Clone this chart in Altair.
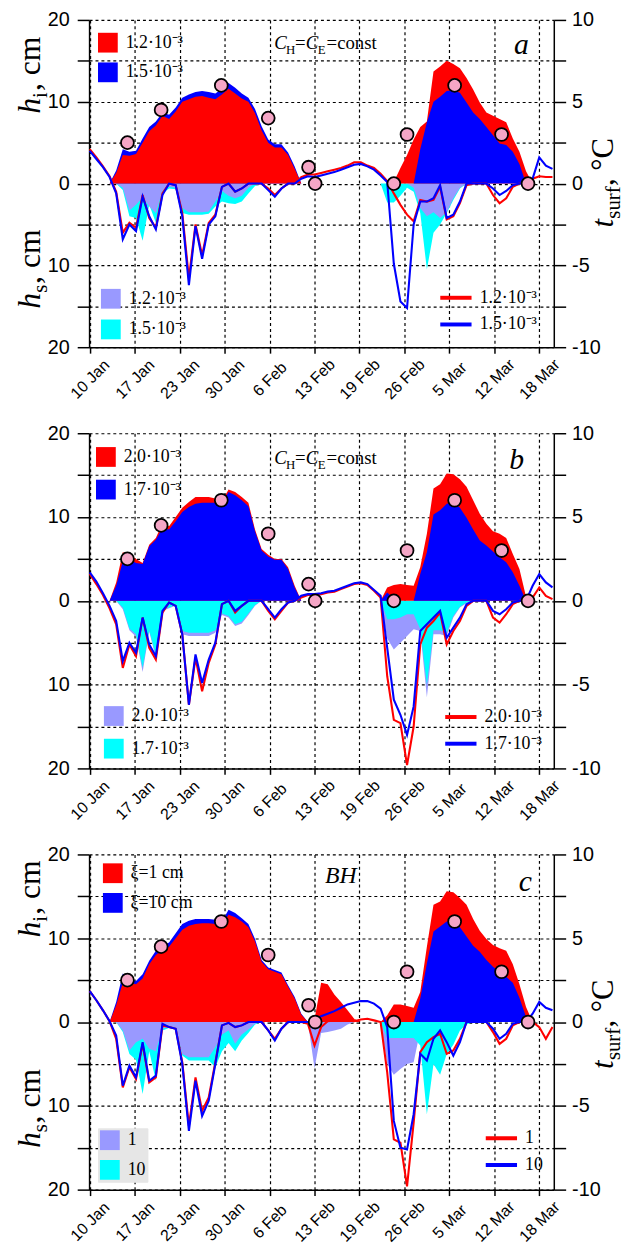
import altair as alt
import pandas as pd

# ---------------------------------------------------------------- data
DAYS = list(range(71))  # days since 10 Jan
TICK_DAYS = [0.0, 6.8, 13.6, 20.4, 27.2, 34.0, 40.8, 47.6, 54.4, 61.2, 68.0]
TICK_LABELS = ["10 Jan", "17 Jan", "23 Jan", "30 Jan", "6 Feb", "13 Feb",
               "19 Feb", "26 Feb", "5 Mar", "12 Mar", "18 Mar"]
OBS_DAYS = [5.7, 10.8, 19.9, 27.0, 33.1, 34.1, 46.0, 48.0, 55.2, 62.3, 66.3]
OBS_CM = [5, 9, 12, 8, 2, 0, 0, 6, 12, 6, 0]

# panel a
A_ICE_RED = [0, 0, 0, 0, 1.3, 3.5, 3.4, 3.6, 5.0, 6.4,
             7.1, 8.3, 7.9, 8.8, 10.0, 10.3, 10.6, 10.7, 10.5, 10.3,
             10.9, 11.6, 11.0, 10.4, 10.0, 8.6, 6.5, 5.0, 4.4, 4.4,
             3.5, 1.8, 0, 0, 0, 0, 0, 0, 0, 0,
             0, 0, 0, 0, 0, 0, 0.2, 1.9, 3.5, 5.4,
             6.9, 7.6, 13.7, 14.3, 15.0, 14.6, 14.1, 12.9, 11.5, 9.9,
             8.7, 8.3, 7.9, 7.5, 5.5, 3.9, 1.5, 0, 0, 0,
             0]
A_ICE_BLUE = [0, 0, 0, 0, 1.6, 4.2, 3.9, 4.0, 5.5, 6.9,
              7.6, 8.7, 8.4, 9.3, 10.5, 10.9, 11.2, 11.3, 11.2, 11.0,
              11.6, 12.3, 11.7, 11.0, 10.5, 9.1, 7.0, 5.4, 4.8, 4.8,
              3.8, 2.1, 0, 0, 0, 0, 0, 0, 0, 0,
              0, 0, 0, 0, 0, 0, 0, 0, 0, 0,
              4.2, 7.5, 10.0, 10.6, 11.3, 11.4, 11.1, 9.9, 8.7, 7.9,
              6.9, 5.9, 4.9, 4.7, 3.9, 2.4, 0, 0, 0, 0,
              0]
A_SNOW_LILAC = [0, 0, 0, 0, 0, 0.5, 3.3, 2.6, 1.7, 2.8,
                3.6, 0.9, 0.4, 0.5, 3.0, 3.5, 3.5, 3.5, 3.4, 2.2,
                0.9, 1.5, 1.8, 1.5, 0.5, 0, 0, 0, 0, 0,
                0, 0, 0, 0, 0, 0, 0, 0, 0, 0,
                0, 0, 0, 0, 0, 0, 0, 0, 0, 0.5,
                3.0, 4.0, 3.5, 4.2, 3.5, 1.8, 0.5, 0, 0, 0,
                0, 0, 0, 0, 0, 0, 0, 0, 0, 0,
                0]
A_SNOW_CYAN = [0, 0, 0, 0, 0, 0.8, 4.0, 4.2, 7.0, 2.6,
               4.8, 1.2, 0.6, 0.7, 3.6, 3.8, 3.8, 3.8, 3.7, 2.8,
               2.2, 2.4, 2.5, 2.2, 1.2, 0.3, 0, 0, 0, 0,
               0, 0, 0, 0, 0, 0, 0, 0, 0, 0,
               0, 0, 0, 0, 0, 2.3, 2.3, 1.5, 0.5, 1.0,
               3.6, 10.5, 6.0, 5.0, 3.6, 2.0, 0.6, 0, 0, 0,
               0, 0, 0, 0, 0, 0, 0, 0, 0, 0,
               0]
A_T_RED = [2.1, 1.6, 1.05, 0.45, -0.5, -3.0, -2.4, -2.7, -0.7, -2.1,
           -2.7, -0.6, 0, -0.1, -1.8, -5.8, -2.5, -4.4, -2.4, -1.9,
           -0.2, 0, -0.5, -0.3, 0, 0, 0, -0.3, -0.7, -0.3,
           0, 0, 0.4, 0.55, 0.55, 0.65, 0.75, 0.85, 0.95, 1.1,
           1.3, 1.3, 1.1, 0.95, 0.6, 0.15, -0.6, -1.3, -1.9, -2.3,
           -1.0, -1.1, -1.0, -0.2, -2.2, -2.0, -1.2, -0.1, 0, 0,
           0, -0.7, -1.2, -0.9, -0.2, 0, 0, 0.3, 0.45, 0.4,
           0.4]
A_T_BLUE = [2.0, 1.5, 1.0, 0.4, -0.6, -3.4, -2.5, -2.9, -0.8, -2.0,
            -2.8, -0.7, 0, -0.1, -2.0, -6.2, -2.6, -4.6, -2.5, -2.0,
            -0.2, 0, -0.5, -0.3, 0, 0, 0, -0.4, -0.8, -0.3,
            0, 0, 0.3, 0.45, 0.4, 0.5, 0.6, 0.7, 0.85, 1.0,
            1.15, 1.2, 1.05, 0.85, 0.5, 0.1, -4.9, -7.2, -7.6, -2.5,
            -1.1, -1.1, -0.9, -0.1, -2.1, -1.9, -1.1, 0, 0, 0,
            0, -0.3, -0.7, -0.45, -0.1, 0, 0, 0.3, 1.6, 1.1,
            0.9]

# panel b
B_ICE_RED = [0, 0, 0, 0, 2.2, 5.8, 5.6, 5.0, 4.5, 6.7,
             7.5, 9.3, 8.9, 10.0, 11.1, 11.8, 12.4, 12.4, 12.4, 12.2,
             11.9, 13.3, 13.0, 12.4, 11.7, 8.5, 6.2, 5.5, 5.0, 5.0,
             4.0, 1.8, 0, 0, 0, 0, 0, 0, 0, 0,
             0, 0, 0, 0, 0, 1.6, 1.9, 2.0, 1.9, 1.8,
             4.0, 8.0, 13.4, 13.9, 15.2, 15.1, 14.5, 13.6, 12.0, 10.4,
             9.2, 8.3, 8.0, 7.5, 5.6, 3.8, 0.5, 0, 0, 0,
             0]
B_ICE_BLUE = [0, 0, 0, 0, 1.8, 4.7, 5.0, 4.5, 4.4, 6.5,
              7.3, 8.7, 8.5, 9.5, 10.6, 11.2, 11.6, 11.7, 11.7, 11.7,
              11.6, 13.0, 12.6, 12.0, 11.3, 8.3, 6.0, 5.3, 4.9, 4.9,
              3.8, 1.6, 0, 0, 0, 0, 0, 0, 0, 0,
              0, 0, 0, 0, 0, 1.0, 0.3, 0, 0, 0,
              3.2, 5.8, 10.3, 10.8, 11.6, 11.8, 11.1, 9.9, 8.5, 7.2,
              6.6, 5.9, 5.2, 4.6, 3.4, 1.8, 0, 0, 0, 0,
              0]
B_SNOW_LILAC = [0, 0, 0, 0, 0, 1.0, 3.5, 4.3, 8.5, 3.7,
                6.8, 1.2, 0.9, 0.6, 4.0, 4.2, 4.2, 4.2, 4.2, 3.8,
                1.7, 2.0, 3.0, 2.7, 1.7, 0.6, 0, 0, 0, 0,
                0, 0, 0, 0, 0, 0, 0, 0, 0, 0,
                0, 0, 0, 0, 0, 4.5, 5.8, 5.0, 4.2, 3.4,
                3.6, 11.5, 4.0, 4.0, 4.2, 2.0, 0.8, 0.3, 0, 0,
                0, 0, 0, 0, 0, 0, 0, 0, 0, 0,
                0]
B_SNOW_CYAN = [0, 0, 0, 0, 0, 0.8, 3.3, 4.0, 8.0, 3.5,
               6.5, 1.0, 0.8, 0.5, 3.6, 3.8, 3.8, 3.8, 3.8, 3.5,
               1.5, 1.8, 2.8, 2.5, 1.5, 0.5, 0, 0, 0, 0,
               0, 0, 0, 0, 0, 0, 0, 0, 0, 0,
               0, 0, 0, 0, 0, 2.2, 2.2, 2.0, 1.6, 1.6,
               3.4, 10.0, 3.5, 3.5, 3.8, 1.8, 0.7, 0.2, 0, 0,
               0, 0, 0, 0, 0, 0, 0, 0, 0, 0,
               0]
B_T_RED = [1.6, 1.0, 0.35, -0.45, -1.4, -4.0, -2.6, -3.3, -1.0, -2.8,
           -3.5, -0.7, -0.1, -0.3, -2.0, -6.2, -3.4, -5.4, -3.7, -2.6,
           -0.2, 0, -0.7, -0.3, 0, 0, 0, -0.6, -1.1, -0.6,
           -0.1, 0, 0.2, 0.35, 0.35, 0.4, 0.5, 0.55, 0.7, 0.85,
           1.0, 1.05, 0.95, 0.6, 0.2, -4.5, -7.1, -7.3, -9.8, -7.5,
           -2.6, -1.6, -1.2, -0.7, -2.6, -1.8, -1.2, -0.3, 0, 0,
           0, -1.0, -1.3, -0.8, -0.2, 0, 0, 0.2, 0.8, 0.3,
           0.1]
B_T_BLUE = [1.7, 1.15, 0.45, -0.3, -1.2, -3.6, -2.5, -3.1, -1.0, -2.6,
            -3.3, -0.6, -0.1, -0.3, -2.0, -6.2, -3.2, -4.9, -3.5, -2.5,
            -0.2, 0, -0.6, -0.3, 0, 0, 0, -0.5, -1.0, -0.5,
            -0.1, 0, 0.3, 0.4, 0.4, 0.45, 0.55, 0.6, 0.75, 0.9,
            1.05, 1.1, 1.0, 0.65, 0.3, -2.8, -5.9, -6.8, -8.0, -6.3,
            -1.8, -1.4, -1.0, -0.6, -2.2, -1.6, -1.0, -0.2, 0, 0,
            0, -0.6, -0.8, -0.5, -0.1, 0, 0, 0.9, 1.6, 1.1,
            0.8]

# panel c
C_ICE_RED = [0, 0, 0, 0, 2.0, 4.7, 4.7, 4.5, 5.2, 6.9,
             8.0, 8.6, 9.0, 10.0, 11.0, 11.5, 11.7, 11.8, 11.8, 11.7,
             11.5, 12.8, 12.5, 12.0, 11.3, 9.6, 7.2, 6.3, 6.0, 5.7,
             4.2, 2.8, 0.9, 0, 0.3, 4.7, 4.5, 3.3, 2.4, 1.4,
             0.4, 0, 0, 0, 0, 0.8, 2.1, 2.1, 1.9, 1.7,
             3.6, 9.0, 14.0, 14.4, 15.6, 15.5, 14.8, 14.0, 12.3, 10.9,
             9.9, 9.2, 8.8, 8.5, 6.9, 4.5, 1.8, 0, 0, 0,
             0]
C_ICE_BLUE = [0, 0, 0, 0, 2.4, 5.8, 5.1, 4.9, 5.7, 7.3,
              8.5, 9.1, 9.5, 10.6, 11.7, 12.1, 12.3, 12.3, 12.3, 12.2,
              12.0, 13.4, 13.0, 12.4, 11.7, 9.9, 7.4, 6.5, 6.2, 5.9,
              4.4, 3.0, 1.0, 0, 0, 0, 0, 0, 0, 0,
              0, 0, 0, 0, 0, 0, 0, 0, 0, 0,
              2.8, 7.0, 10.8, 11.4, 12.0, 12.0, 11.3, 10.2, 9.1, 8.4,
              7.4, 6.6, 6.0, 5.4, 4.7, 2.9, 0.6, 0, 0, 0,
              0]
C_SNOW_LILAC = [0, 0, 0, 0, 0, 1.0, 3.4, 2.4, 2.0, 3.2,
                3.5, 0.8, 0.6, 0.7, 3.8, 4.2, 4.2, 4.2, 4.2, 3.0,
                1.5, 1.0, 2.6, 1.5, 0.9, 0.2, 0, 0, 0, 0,
                0, 0, 0, 0, 5.5, 1.3, 1.2, 1.0, 0.8, 0.3,
                0, 0, 0, 0, 0, 5.0, 6.3, 5.6, 5.0, 4.8,
                1.0, 2.5, 2.0, 2.5, 2.0, 0.8, 0.3, 0, 0, 0,
                0, 0, 0, 0, 0, 0, 0, 0, 0, 0,
                0]
C_SNOW_CYAN = [0, 0, 0, 0, 0, 1.2, 3.8, 4.5, 8.6, 3.5,
               7.0, 1.0, 0.7, 0.8, 4.0, 4.6, 4.6, 4.6, 4.6, 5.4,
               3.5, 2.5, 3.5, 2.2, 1.3, 0.3, 0, 0, 0, 0,
               0, 0, 0, 0, 0, 0, 0, 0, 0, 0,
               0, 0, 0, 0, 0, 1.9, 1.9, 1.9, 1.9, 1.9,
               2.8, 11.0, 5.0, 6.3, 3.8, 2.7, 1.0, 0.3, 0, 0,
               0, 0, 0, 0, 0, 0, 0, 0, 0, 0,
               0]
C_T_RED = [1.85, 1.3, 0.7, 0.05, -1.0, -3.9, -2.7, -3.4, -1.3, -3.6,
           -3.3, -0.2, -0.3, -0.4, -2.4, -6.2, -3.3, -5.3, -4.5, -2.4,
           -0.2, -0.05, -0.3, -0.2, 0, 0, 0, -0.5, -1.0, -0.4,
           0, 0, 0, -0.1, -1.4, -0.3, 0.05, 0.1, 0.1, 0.1,
           0.05, 0.15, 0.2, 0.1, 0, -3.0, -7.0, -7.2, -9.8, -6.0,
           -1.8, -1.2, -0.9, -0.7, -1.9, -1.7, -1.0, 0, 0, 0,
           0, -0.6, -1.3, -1.0, -0.2, 0, 0, 0, -0.3, -1.0,
           -0.3]
C_T_BLUE = [1.85, 1.3, 0.7, 0.05, -0.8, -3.8, -2.6, -3.3, -1.2, -3.5,
            -3.2, -0.1, -0.3, -0.4, -2.5, -6.5, -3.5, -5.6, -4.7, -2.5,
            -0.2, -0.05, -0.3, -0.2, 0, 0, 0, -0.5, -1.1, -0.4,
            0, 0, 0, 0, 0.1, 0.35, 0.5, 0.65, 0.85, 1.05,
            1.15, 1.25, 1.25, 1.1, 0.8, -0.3, -5.9, -7.5, -7.6, -5.5,
            -1.9, -2.3, -1.0, -0.5, -1.2, -2.0, -1.2, 0, 0, 0,
            0, -0.4, -1.0, -0.7, -0.1, 0, 0, 0.5, 1.2, 0.85,
            0.7]

A_LABELS = ["1.2·10⁻³", "1.5·10⁻³"]
B_LABELS = ["2.0·10⁻³", "1.7·10⁻³"]
C_ICE_LABELS = ["ξ=1 cm", "ξ=10 cm"]
C_LABELS = ["1", "10"]

# ---------------------------------------------------------------- style
RED, BLUE, LILAC, CYAN, PINK = "#ff0000", "#0000ff", "#9999ff", "#00ffff", "#f5a6c6"
SERIF, SANS = "Liberation Serif", "Liberation Sans"
W = 470

tick_expr = "''"
for d, lab in zip(reversed(TICK_DAYS), reversed(TICK_LABELS)):
    tick_expr = f"abs(datum.value - {d}) < 0.05 ? '{lab}' : " + tick_expr

X_SCALE = alt.Scale(domain=[-0.1, 70.2], nice=False, zero=False)
X_AXIS = alt.Axis(values=TICK_DAYS, labelExpr=tick_expr, title=None, labelAngle=-45,
                  labelAlign="center", labelBaseline="middle", labelPadding=26,
                  labelFontSize=16, labelFont=SANS, labelColor="black",
                  labelOverlap=False, labelFlush=False, labelBound=False,
                  tickSize=6, tickColor="black", tickWidth=1.5,
                  domainColor="black", domainWidth=1.5,
                  grid=True, gridColor="black", gridDash=[3, 3], gridWidth=1.2, gridOpacity=1)
YCM_SCALE = alt.Scale(domain=[-20, 20], nice=False, zero=False)
LEFT_AXIS = alt.Axis(orient="left", values=list(range(-20, 21, 5)), title=None,
                     labelExpr="datum.value % 10 == 0 ? '' + abs(datum.value) : ''",
                     labelFontSize=20, labelFont=SANS, labelColor="black", labelPadding=8,
                     tickSize=12, tickColor="black", tickWidth=1.5,
                     domainColor="black", domainWidth=1.5,
                     grid=True, gridColor="black", gridDash=[3, 3], gridWidth=1.2, gridOpacity=1)
T_SCALE = alt.Scale(domain=[-10, 10], nice=False, zero=False)
RIGHT_AXIS = alt.Axis(orient="right", values=[-10, -7.5, -5, -2.5, 0, 2.5, 5, 7.5, 10], title=None,
                      labelExpr="datum.value % 5 == 0 ? '' + datum.value : ''",
                      labelFontSize=20, labelFont=SANS, labelColor="black", labelPadding=6,
                      tickSize=12, tickColor="black", tickWidth=1.5,
                      domainColor="black", domainWidth=1.5, grid=False)

XENC = alt.X("day:Q", scale=X_SCALE, axis=X_AXIS)

# internal category codes (kept distinct so the three legends stay separate)
CODES = {"ice_r": "i1", "ice_b": "i2", "snow_l": "s1", "snow_c": "s2", "t_r": "t1", "t_b": "t2"}


def long_df(ice_r, ice_b, snow_l, snow_c, t_r, t_b):
    rows = []
    spec = [("ice_r", ice_r), ("ice_b", ice_b), ("snow_l", snow_l),
            ("snow_c", snow_c), ("t_r", t_r), ("t_b", t_b)]
    for key, vals in spec:
        for d, v in zip(DAYS, vals):
            rows.append({"day": d, "v": v, "key": key, "lab": CODES[key]})
    return pd.DataFrame(rows)


def label_expr(code1, labels):
    return f"datum.label == '{code1}' ? '{labels[0]}' : '{labels[1]}'"


def square_legend(x, y, row_pad, code1, labels, fill=None):
    kw = dict(orient="none", legendX=x, legendY=y, title=None, symbolType="square",
              symbolSize=400, symbolStrokeWidth=0, symbolOpacity=1,
              labelFont=SERIF, labelFontSize=18, labelColor="black",
              labelExpr=label_expr(code1, labels),
              rowPadding=row_pad, labelOffset=8, padding=0, labelLimit=300)
    if fill:
        kw.update(fillColor=fill, padding=2, strokeColor=fill)
    return alt.Legend(**kw)


def line_legend(x, y, row_pad, labels):
    return alt.Legend(orient="none", legendX=x, legendY=y, title=None, symbolType="stroke",
                      symbolSize=1000, symbolStrokeWidth=4, labelFont=SERIF, labelFontSize=18,
                      labelExpr=label_expr("t1", labels),
                      labelColor="black", rowPadding=row_pad, labelOffset=6, padding=0,
                      labelLimit=300)


def anno(text, day, cm, size, italic=False, dx=0, dy=0, align="left"):
    return alt.Chart(pd.DataFrame({"day": [day], "cm": [cm]})).mark_text(
        text=text, fontSize=size, font=SERIF, fontStyle="italic" if italic else "normal",
        align=align, baseline="alphabetic", dx=dx, dy=dy, color="black"
    ).encode(x=XENC, y=alt.Y("cm:Q", scale=YCM_SCALE, axis=None))


def ptext(text, px, py, size, italic=False):
    return alt.Chart(pd.DataFrame({"k": [0]})).mark_text(
        text=text, fontSize=size, font=SERIF, fontStyle="italic" if italic else "normal",
        angle=270, align="left", baseline="alphabetic", color="black"
    ).encode(x=alt.value(px), y=alt.value(py))


def ch_label(day, cm):
    parts = [("C", 0, 0, 19, True), ("H", 12, 5, 13, False), ("=", 21, 0, 19, False),
             ("C", 32, 0, 19, True), ("E", 44, 5, 13, False), ("=const", 53, 0, 19, False)]
    return [anno(t, day, cm, s, it, dx=dx, dy=dy) for t, dx, dy, s, it in parts]


def axis_titles(hi_y, hs_y, t_y):
    xl = -50
    xr = W + 60
    return [
        ptext("h", xl, hi_y, 32, True), ptext("i", xl + 7, hi_y - 16, 21), ptext(", cm", xl, hi_y - 23, 32),
        ptext("h", xl, hs_y, 32, True), ptext("s", xl + 7, hs_y - 16, 21), ptext(", cm", xl, hs_y - 25, 32),
        ptext("t", xr, t_y, 31, True), ptext("surf", xr + 7, t_y - 9, 21), ptext(" , °C", xr, t_y - 42, 31),
    ]


def build_panel(df, height, ice_order, snow_order, ice_leg, snow_leg, t_leg, extras):
    ycm = alt.Y("yv:Q", scale=YCM_SCALE, axis=LEFT_AXIS, stack=None)
    fill_enc = alt.Fill("lab:N", scale=alt.Scale(domain=["i1", "i2"], range=[RED, BLUE]), legend=ice_leg)
    color_enc = alt.Color("lab:N", scale=alt.Scale(domain=["s1", "s2"], range=[LILAC, CYAN]), legend=snow_leg)
    g1 = []
    for key, lo, hi in snow_order:
        g1.append(alt.Chart(df)
                  .transform_filter(f"datum.key == '{key}' && datum.day >= {lo} && datum.day <= {hi}")
                  .transform_calculate(yv="-datum.v")
                  .mark_area(opacity=1)
                  .encode(x=XENC, y=ycm, y2=alt.datum(0), color=color_enc))
    for key, lo, hi in ice_order:
        g1.append(alt.Chart(df)
                  .transform_filter(f"datum.key == '{key}' && datum.day >= {lo} && datum.day <= {hi}")
                  .transform_calculate(yv="datum.v")
                  .mark_area(opacity=1)
                  .encode(x=XENC, y=ycm, y2=alt.datum(0), fill=fill_enc))
    stroke_enc = alt.Stroke("lab:N", scale=alt.Scale(domain=["t1", "t2"], range=[RED, BLUE]), legend=t_leg)
    yt = alt.Y("v:Q", scale=T_SCALE, axis=RIGHT_AXIS)
    g2 = [alt.Chart(df).transform_filter(f"datum.key == '{k}'").mark_line(strokeWidth=2.1)
          .encode(x=XENC, y=yt, stroke=stroke_enc) for k in ("t_r", "t_b")]
    obs = pd.DataFrame({"day": OBS_DAYS, "cm": OBS_CM})
    pts = alt.Chart(obs).mark_circle(size=170, color=PINK, opacity=1, stroke="black",
                                     strokeWidth=1.8).encode(
        x=XENC, y=alt.Y("cm:Q", scale=YCM_SCALE, axis=None))
    g3 = [pts] + extras
    return alt.layer(alt.layer(*g1), alt.layer(*g2), alt.layer(*g3)).resolve_scale(
        y="independent").properties(width=W, height=height)


dfa = long_df(A_ICE_RED, A_ICE_BLUE, A_SNOW_LILAC, A_SNOW_CYAN, A_T_RED, A_T_BLUE)
dfb = long_df(B_ICE_RED, B_ICE_BLUE, B_SNOW_LILAC, B_SNOW_CYAN, B_T_RED, B_T_BLUE)
dfc = long_df(C_ICE_RED, C_ICE_BLUE, C_SNOW_LILAC, C_SNOW_CYAN, C_T_RED, C_T_BLUE)

pa = build_panel(
    dfa, 331,
    ice_order=[("ice_b", 0, 40), ("ice_r", 0, 40), ("ice_r", 40, 70), ("ice_b", 40, 70)],
    snow_order=[("snow_c", 0, 70), ("snow_l", 0, 70)],
    ice_leg=square_legend(9, 13, 10, "i1", A_LABELS),
    snow_leg=square_legend(12, 272, 11, "s1", A_LABELS),
    t_leg=line_legend(353, 263, -3, A_LABELS),
    extras=ch_label(27.9, 16.4) + [anno("a", 65.3, 15.8, 30, True, align="center")]
    + axis_titles(95, 292, 210))

pb = build_panel(
    dfb, 339,
    ice_order=[("ice_r", 0, 70), ("ice_b", 0, 70)],
    snow_order=[("snow_l", 0, 70), ("snow_c", 0, 70)],
    ice_leg=square_legend(7, 14, 13, "i1", B_LABELS),
    snow_leg=square_legend(15, 276, 13, "s1", B_LABELS),
    t_leg=line_legend(358, 269, -5, B_LABELS),
    extras=ch_label(27.9, 16.3) + [anno("b", 64.6, 15.7, 30, True, align="center")])

pc = build_panel(
    dfc, 339,
    ice_order=[("ice_b", 0, 40), ("ice_r", 0, 40), ("ice_r", 40, 70), ("ice_b", 40, 70)],
    snow_order=[("snow_c", 0, 40), ("snow_l", 0, 40), ("snow_l", 40, 70), ("snow_c", 40, 70)],
    ice_leg=square_legend(14, 9, 10, "i1", C_ICE_LABELS),
    snow_leg=square_legend(9, 277, 10, "s1", C_LABELS, fill="#e6e6e6"),
    t_leg=line_legend(399, 269, -1, C_LABELS),
    extras=[anno("BH", 35.6, 16.6, 24, True), anno("c", 65.9, 15.6, 30, True, align="center")]
    + axis_titles(84, 297, 217))

chart = alt.vconcat(pa, pb, pc, spacing=21).resolve_scale(
    fill="independent", color="independent", stroke="independent"
).resolve_legend(fill="independent", color="independent", stroke="independent").properties(
    padding={"left": 6, "top": -5, "right": 0, "bottom": 0}
).configure_view(stroke=None)

chart.save("out.html", embed_options={"renderer": "svg", "actions": False})
